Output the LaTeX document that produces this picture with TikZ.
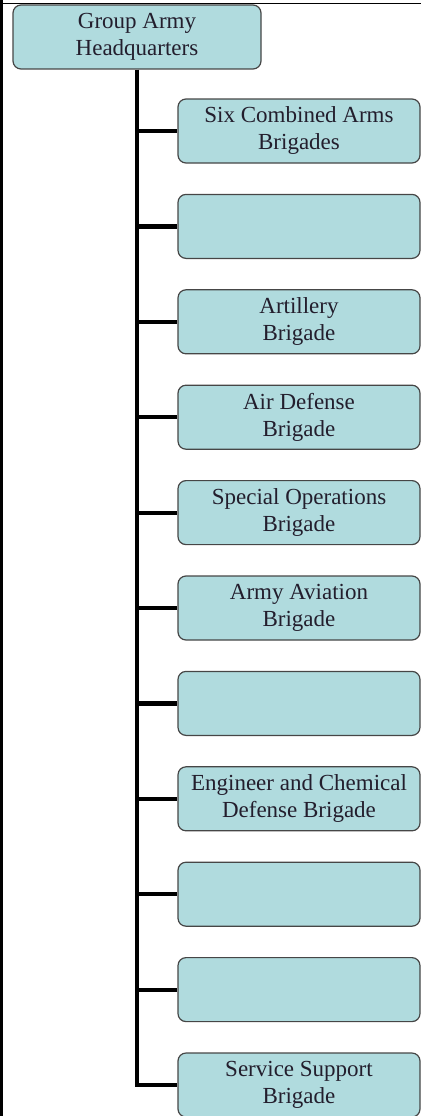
\documentclass[tikz,border=0pt]{standalone}
\usepackage{fontspec}
\setmainfont{Liberation Serif}
\usepackage{tikz}

\definecolor{boxteal}{RGB}{176,219,222}
\definecolor{boxline}{RGB}{70,70,70}
\definecolor{txt}{RGB}{35,30,45}

\tikzset{
  unit/.style={draw=boxline, line width=1.2pt, fill=boxteal, rounded corners=8pt,
    minimum height=64pt, inner sep=0pt, align=center, text=txt,
    font=\fontsize{23}{27}\selectfont},
  hqunit/.style={unit, minimum width=248pt},
  subunit/.style={unit, minimum width=242pt},
  link/.style={line width=4.2pt}
}

\begin{document}
\begin{tikzpicture}
                        [x=1pt,y=-1pt]
                        \useasboundingbox (0,0) rectangle (421,1116);
                        \draw[line width=2.7pt] (1.35,0) -- (1.35,1116);
                        \draw[line width=1pt] (0,3.3) -- (421,3.3);
                        \node[hqunit] (hq) at (137,37) {Group Army\\Headquarters};
                        \node[subunit] (combined) at (299,131) {Six Combined Arms\\Brigades};
                        \node[subunit] (blank1) at (299,226.4) {};
                        \node[subunit] (artillery) at (299,321.8) {Artillery\\Brigade};
                        \node[subunit] (airdef) at (299,417.2) {Air Defense\\Brigade};
                        \node[subunit] (specops) at (299,512.6) {Special Operations\\Brigade};
                        \node[subunit] (aviation) at (299,608) {Army Aviation\\Brigade};
                        \node[subunit] (blank2) at (299,703.4) {};
                        \node[subunit] (engineer) at (299,798.8) {Engineer and Chemical\\Defense Brigade};
                        \node[subunit] (blank3) at (299,894.2) {};
                        \node[subunit] (blank4) at (299,989.6) {};
                        \node[subunit] (support) at (299,1085) {Service Support\\Brigade};
                        \draw[link] (hq.south) |- (support.west);
                        \foreach \to in {combined,blank1,artillery,airdef,specops,aviation,blank2,engineer,blank3,blank4}
                        \draw[link] (hq.south |- \to.west) -- (\to.west);
                    \end{tikzpicture}
\end{document}
